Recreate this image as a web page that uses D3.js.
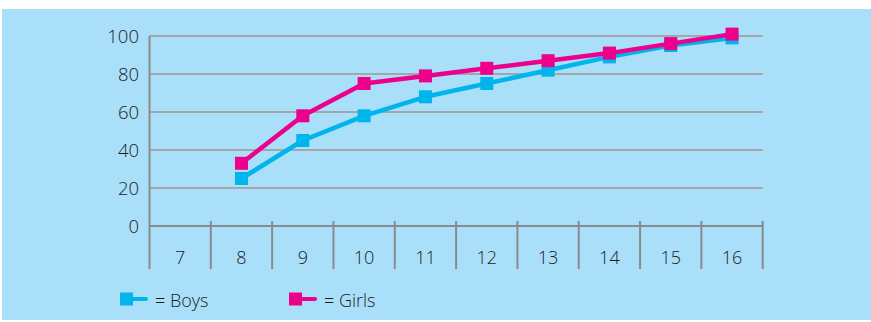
<!DOCTYPE html>
<html>
<head>
<meta charset="utf-8">
<script src="https://cdn.jsdelivr.net/npm/d3@7"></script>
<style>
  html, body { margin: 0; padding: 0; background: #ffffff; }
  svg { display: block; }
  text { font-family: "Open Sans", "Liberation Sans", Arial, sans-serif; font-weight: 300; fill: #1c1c1c; }
</style>
</head>
<body>
<svg id="chart" width="871" height="322"></svg>
<script>
// Ages shown along the bottom axis
const ages = [7, 8, 9, 10, 11, 12, 13, 14, 15, 16];
// Percentages for each series (no value at age 7)
const boys  = [null, 25, 45, 58, 68, 75, 82, 89, 95, 99];
const girls = [null, 33, 58, 75, 79, 83, 87, 91, 96, 101];
// Vertical axis ticks
const yTicks = [0, 20, 40, 60, 80, 100];

const seriesList = [
  { name: "Boys",  values: boys,  color: "#00b5ec" },
  { name: "Girls", values: girls, color: "#ec008c" }
];

const svg = d3.select("#chart");

// Panel background
svg.append("rect")
  .attr("x", 2).attr("y", 9)
  .attr("width", 869).attr("height", 311)
  .attr("fill", "#a9dff9");

const x = d3.scaleBand().domain(ages).range([149.5, 762.7]).padding(0);
const y = d3.scaleLinear().domain([0, 100]).range([226, 36]);

// Horizontal gridlines
svg.append("g")
  .selectAll("line")
  .data(yTicks.filter(t => t > 0))
  .join("line")
  .attr("x1", x.range()[0]).attr("x2", x.range()[1])
  .attr("y1", d => y(d)).attr("y2", d => y(d))
  .attr("stroke", "#a3a7aa").attr("stroke-width", 2);

// Baseline at zero
svg.append("line")
  .attr("x1", x.range()[0]).attr("x2", x.range()[1])
  .attr("y1", y(0)).attr("y2", y(0))
  .attr("stroke", "#878b8e").attr("stroke-width", 2);

// Left axis line running down through the category row
svg.append("line")
  .attr("x1", x.range()[0]).attr("x2", x.range()[0])
  .attr("y1", y(100)).attr("y2", 269)
  .attr("stroke", "#878b8e").attr("stroke-width", 2);

// Category dividers below the baseline
const bounds = ages.map(a => x(a) + x.bandwidth());
svg.append("g")
  .selectAll("line")
  .data(bounds)
  .join("line")
  .attr("x1", d => d).attr("x2", d => d)
  .attr("y1", 221).attr("y2", 269)
  .attr("stroke", "#878b8e").attr("stroke-width", 2);

// Y tick labels
svg.append("g")
  .selectAll("text")
  .data(yTicks)
  .join("text")
  .attr("x", 139)
  .attr("y", d => y(d))
  .attr("dy", "0.36em")
  .attr("text-anchor", "end")
  .attr("font-size", 18.5)
  .text(d => d);

// X category labels
svg.append("g")
  .selectAll("text")
  .data(ages)
  .join("text")
  .attr("x", d => x(d) + x.bandwidth() / 2)
  .attr("y", 264)
  .attr("text-anchor", "middle")
  .attr("font-size", 18)
  .text(d => d);

// Series lines and square markers
const line = d3.line()
  .defined(d => d.v !== null)
  .x(d => x(d.age) + x.bandwidth() / 2)
  .y(d => y(d.v));

const markerSize = 13;
seriesList.forEach(s => {
  const pts = ages.map((a, i) => ({ age: a, v: s.values[i] }));
  svg.append("path")
    .datum(pts)
    .attr("d", line)
    .attr("fill", "none")
    .attr("stroke", s.color)
    .attr("stroke-width", 4.5)
    .attr("stroke-linejoin", "round");
  svg.append("g")
    .selectAll("rect")
    .data(pts.filter(d => d.v !== null))
    .join("rect")
    .attr("x", d => x(d.age) + x.bandwidth() / 2 - markerSize / 2)
    .attr("y", d => y(d.v) - markerSize / 2)
    .attr("width", markerSize).attr("height", markerSize)
    .attr("fill", s.color);
});

// Legend
const legendX = [120, 289];
seriesList.forEach((s, i) => {
  const g = svg.append("g").attr("transform", `translate(${legendX[i]},299)`);
  g.append("line")
    .attr("x1", 6).attr("x2", 26)
    .attr("y1", 0).attr("y2", 0)
    .attr("stroke", s.color).attr("stroke-width", 4)
    .attr("stroke-linecap", "round");
  g.append("rect")
    .attr("x", 0).attr("y", -6.5)
    .attr("width", 13).attr("height", 13)
    .attr("fill", s.color);
  g.append("text")
    .attr("x", 35).attr("y", 7.5)
    .attr("font-size", 18)
    .text("= " + s.name);
});
</script>
</body>
</html>
